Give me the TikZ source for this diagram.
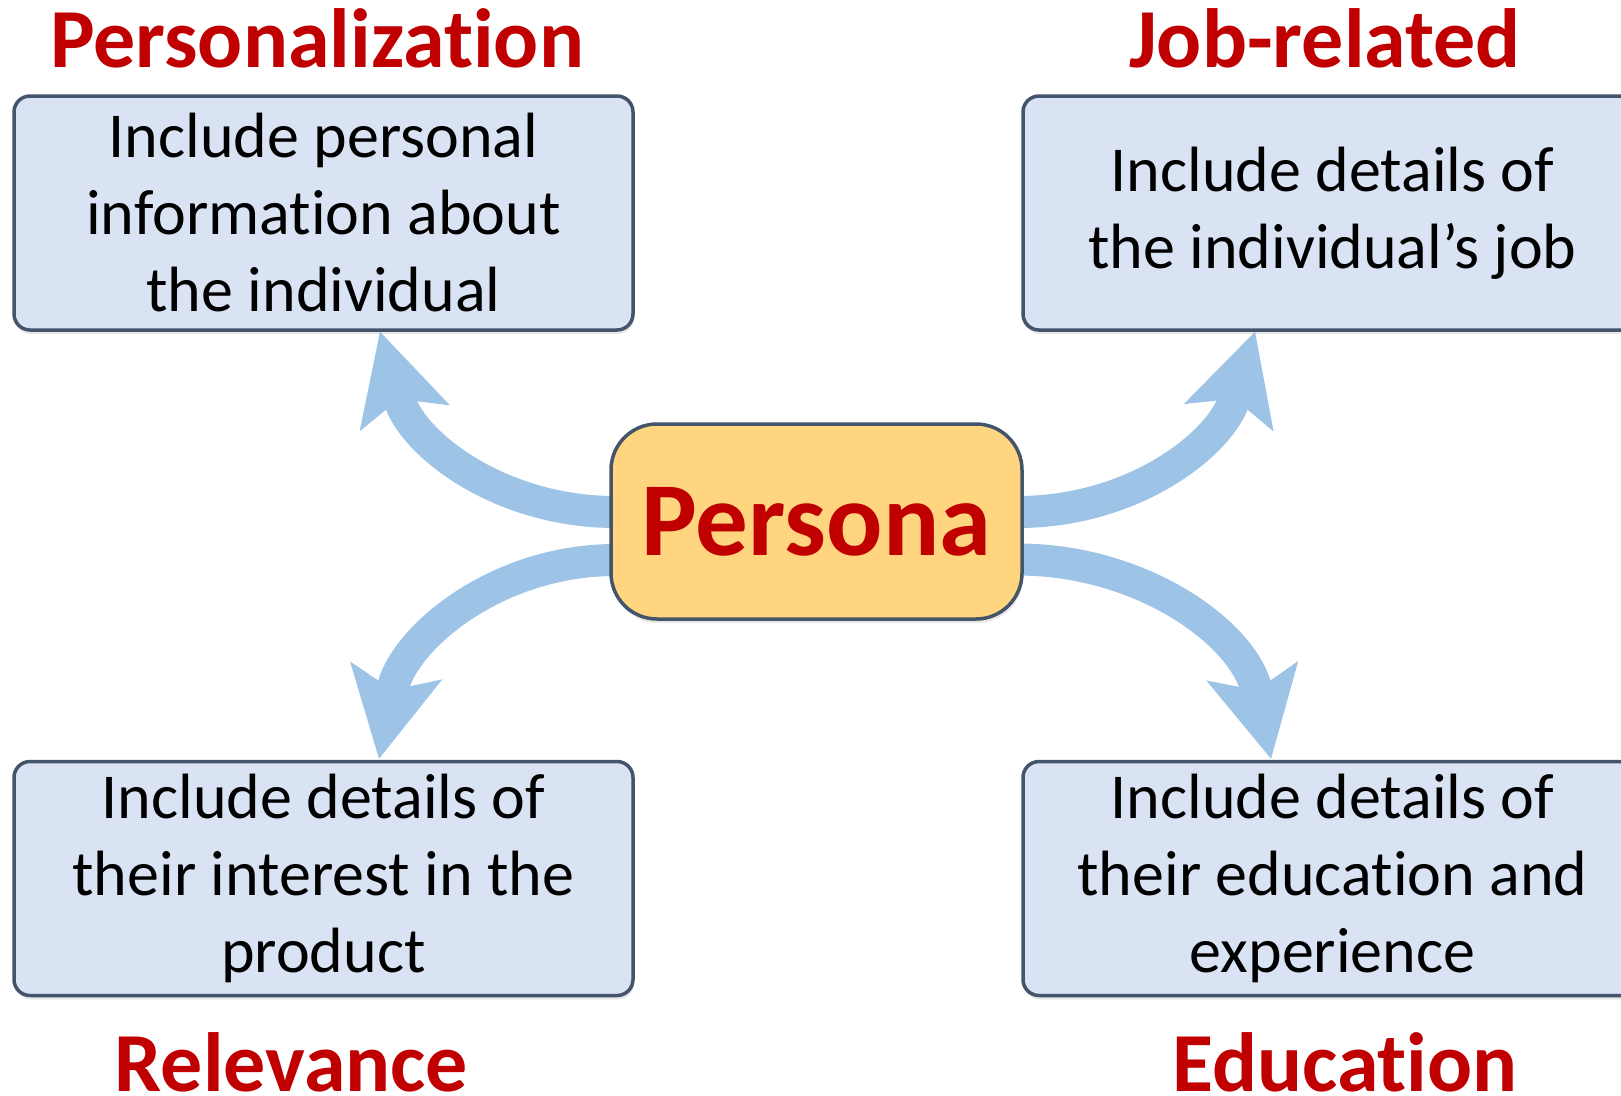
\documentclass[tikz,border=0pt]{standalone}
\usepackage{fontspec}
\setmainfont[Ligatures=NoCommon]{Carlito}
\usetikzlibrary{arrows.meta,shadows,backgrounds}
\definecolor{boxfill}{HTML}{DAE3F3}
\definecolor{boxline}{HTML}{44546A}
\definecolor{ctrfill}{HTML}{FFD67F}
\definecolor{arrblue}{HTML}{9DC3E6}
\definecolor{titlered}{HTML}{C00000}
\begin{document}
\begin{tikzpicture}[x=1pt,y=1pt,
  infobox/.style={draw=boxline, line width=3.5pt, fill=boxfill, rounded corners=16pt,
    minimum width=619pt, minimum height=234pt, align=center, inner sep=0pt,
    font=\fontsize{64}{77}\selectfont,
    drop shadow={shadow xshift=1pt, shadow yshift=-4pt, opacity=0.18}},
  ctrbox/.style={draw=boxline, line width=3.5pt, fill=ctrfill, rounded corners=46pt,
    minimum width=411pt, minimum height=195pt, inner sep=0pt,
    text=titlered, font=\fontsize{105}{120}\selectfont\bfseries,
    drop shadow={shadow xshift=1pt, shadow yshift=-4pt, opacity=0.18}},
  titletext/.style={anchor=base, inner sep=0pt, text=titlered,
    font=\fontsize{84}{100}\selectfont\bfseries},
  bigarrow/.style={draw=arrblue, line width=32pt,
    -{Stealth[length=90pt, width=94pt, inset=20pt, line width=0pt]}}
]
\useasboundingbox (0,0) rectangle (1621,-1095);
\clip (0,0) rectangle (1621,-1095);

\node[infobox] (tl) at (323.5,-213) {Include personal\\information about\\the individual};
\node[infobox] (tr) at (1332.5,-213) {Include details of\\the individual’s job};
\node[infobox] (bl) at (323.5,-878.5) {Include details of\\their interest in the\\product};
\node[infobox] (br) at (1332.5,-878.5) {Include details of\\their education and\\experience};
\node[ctrbox] (ctr) at (816.5,-521.5) {Persona};

\node[titletext] (t1) at (317,-67) {Personalization};
\node[titletext] (t2) at (1325,-67) {Job-related};
\node[titletext] (t3) at (291.5,-1091) {Relevance};
\node[titletext] (t4) at (1345,-1091) {Education};

\begin{scope}[on background layer]
\draw[bigarrow] ([xshift=6pt,yshift=9.5pt]ctr.west) to[out=180,in=-74] ([xshift=56.5pt]tl.south);
\draw[bigarrow] ([xshift=-6pt,yshift=9.5pt]ctr.east) to[out=0,in=-107] ([xshift=-77.5pt]tr.south);
\draw[bigarrow] ([xshift=6pt,yshift=-38.5pt]ctr.west) to[out=180,in=79] ([xshift=55.5pt,yshift=1pt]bl.north);
\draw[bigarrow] ([xshift=-6pt,yshift=-38pt]ctr.east) to[out=0,in=102] ([xshift=-61.5pt,yshift=1pt]br.north);
\end{scope}
\end{tikzpicture}
\end{document}
